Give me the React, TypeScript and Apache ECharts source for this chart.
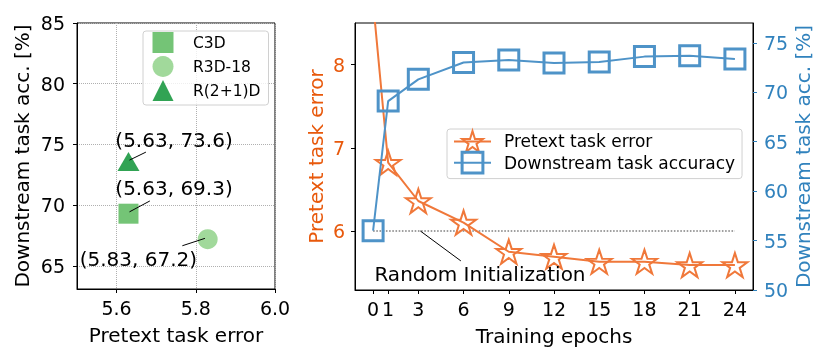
import React, { useEffect, useRef } from 'react';
import * as echarts from 'echarts';

// ---- Left panel data ----
const modelNames = ['C3D', 'R3D-18', 'R(2+1)D'];
const modelErrors = [5.63, 5.83, 5.63];
const modelAccs = [69.3, 67.2, 73.6];
const leftXTicks = [5.6, 5.8, 6.0];
const leftYTicks = [65, 70, 75, 80, 85];

// ---- Right panel data ----
const epochs = [0, 1, 3, 6, 9, 12, 15, 18, 21, 24];
const pretextError = [8.75, 6.82, 6.36, 6.1, 5.75, 5.69, 5.63, 5.63, 5.59, 5.59];
const downstreamAcc = [56.0, 69.1, 71.3, 73.0, 73.25, 72.95, 73.05, 73.6, 73.7, 73.35];
const randomInitError = 6.0;
const epochTicks = [0, 1, 3, 6, 9, 12, 15, 18, 21, 24];
const errTicks = [6, 7, 8];
const accTicks = [50, 55, 60, 65, 70, 75];

// ---- Annotations (data coordinates) ----
const leftNoteTexts = ['(5.63, 73.6)', '(5.63, 69.3)', '(5.83, 67.2)'];
const leftNoteTextAt = [[5.745, 75.4], [5.745, 71.45], [5.655, 65.57]];
const leftNoteLines = [
  [[5.6325, 73.71], [5.674, 74.37]],
  [[5.6325, 69.45], [5.684, 70.35]],
  [[5.766, 66.66], [5.823, 67.27]],
];
const rightNoteText = 'Random Initialization';
const rightNoteTextAt = [7.09, 5.485];
const rightNoteLine = [[3.13, 6.0], [5.82, 5.64]];

const FONT = 'DejaVu Sans';
const ORANGE_LINE = '#f0783a';
const ORANGE_TEXT = '#e8590c';
const BLUE_LINE = '#4e93c8';
const BLUE_TEXT = '#3182bd';
const greens = ['#74c476', '#a1d99b', '#31a354'];
const modelSymbols = ['rect', 'circle', 'triangle'];
const modelSizes: any[] = [[20, 20], [20, 20], [22, 19]];

const STAR = 'path://M50 0 L61.23 34.55 L97.55 34.55 L68.17 55.9 L79.39 90.45 L50 69.1 L20.61 90.45 L31.83 55.9 L2.45 34.55 L38.77 34.55 Z';

export default function App() {
  const ref = useRef<HTMLDivElement>(null);
  useEffect(() => {
    if (!ref.current) return;
    const chart = echarts.init(ref.current, undefined, { renderer: 'svg' });
    const tickLabel = (color: string, margin: number, custom: number[], fmt?: any) => ({
      customValues: custom,
      fontSize: 19,
      color,
      margin,
      fontFamily: FONT,
      formatter: fmt,
    });
    const axisLine = { show: true, onZero: false, lineStyle: { color: '#000' } };
    const noteLabel = (t: string) => ({
      show: true, position: 'inside', formatter: t, fontSize: 20, color: '#000',
      fontFamily: FONT, opacity: 1, textBorderWidth: 0,
    });
    const series: any[] = [];
    modelNames.forEach((n, i) => {
      series.push({
        type: 'scatter',
        name: n,
        xAxisIndex: 0,
        yAxisIndex: 0,
        symbol: modelSymbols[i],
        symbolSize: modelSizes[i],
        itemStyle: { color: greens[i], opacity: 1 },
        data: [[modelErrors[i], modelAccs[i]]],
        z: 3,
      });
    });
    leftNoteLines.forEach((l) => {
      series.push({
        type: 'line',
        xAxisIndex: 0,
        yAxisIndex: 0,
        data: l,
        symbol: 'none',
        lineStyle: { color: '#000', width: 1 },
        silent: true,
        z: 4,
      });
    });
    series.push({
      type: 'scatter',
      xAxisIndex: 0,
      yAxisIndex: 0,
      symbolSize: 1,
      itemStyle: { color: 'rgba(0,0,0,0)', opacity: 1 },
      silent: true,
      data: leftNoteTexts.map((t, i) => ({ value: leftNoteTextAt[i], label: noteLabel(t) })),
      z: 5,
    });
    // Right panel
    series.push({
      type: 'line',
      xAxisIndex: 1,
      yAxisIndex: 1,
      data: [[epochs[0], randomInitError], [epochs[epochs.length - 1], randomInitError]],
      symbol: 'none',
      lineStyle: { color: '#808080', width: 1.6, type: 'dotted' },
      silent: true,
      z: 1,
    });
    series.push({
      type: 'line',
      name: 'Pretext task error',
      xAxisIndex: 1,
      yAxisIndex: 1,
      data: epochs.map((e, i) => [e, pretextError[i]]),
      symbol: STAR,
      symbolSize: [25, 24],
      lineStyle: { color: ORANGE_LINE, width: 2 },
      itemStyle: { color: 'transparent', borderColor: ORANGE_LINE, borderWidth: 2 },
      clip: true,
      z: 2,
    });
    series.push({
      type: 'line',
      name: 'Downstream task accuracy',
      xAxisIndex: 1,
      yAxisIndex: 2,
      data: epochs.map((e, i) => [e, downstreamAcc[i]]),
      symbol: 'rect',
      symbolSize: 20,
      lineStyle: { color: BLUE_LINE, width: 2 },
      itemStyle: { color: 'transparent', borderColor: BLUE_LINE, borderWidth: 3 },
      z: 3,
    });
    series.push({
      type: 'line',
      xAxisIndex: 1,
      yAxisIndex: 1,
      data: rightNoteLine,
      symbol: 'none',
      lineStyle: { color: '#000', width: 1 },
      silent: true,
      z: 4,
    });
    series.push({
      type: 'scatter',
      xAxisIndex: 1,
      yAxisIndex: 1,
      symbolSize: 1,
      itemStyle: { color: 'rgba(0,0,0,0)', opacity: 1 },
      silent: true,
      data: [{ value: rightNoteTextAt, label: noteLabel(rightNoteText) }],
      z: 5,
    });

    const option: any = {
      animation: false,
      textStyle: { fontFamily: FONT },
      grid: [
        { left: 77, top: 23, width: 198, height: 266, show: true, borderColor: '#000', borderWidth: 1, containLabel: false },
        { left: 355, top: 23, width: 398, height: 267, show: true, borderColor: '#000', borderWidth: 1, containLabel: false },
      ],
      xAxis: [
        {
          type: 'value', gridIndex: 0, min: 5.5, max: 6.0,
          axisLine,
          axisTick: { show: true, length: 4, customValues: leftXTicks, lineStyle: { color: '#000' } },
          axisLabel: tickLabel('#000', 9, leftXTicks, (v: number) => v.toFixed(1)),
          splitLine: { show: true, lineStyle: { type: 'dotted', color: '#b0b0b0', width: 1 } },
          name: 'Pretext task error', nameLocation: 'middle', nameGap: 36,
          nameTextStyle: { fontSize: 20, color: '#000', fontFamily: FONT },
        },
        {
          type: 'value', gridIndex: 1, min: -1.2, max: 25.2,
          axisLine,
          axisTick: { show: true, length: 4, customValues: epochTicks, lineStyle: { color: '#000' } },
          axisLabel: tickLabel('#000', 9, epochTicks),
          splitLine: { show: false },
          name: 'Training epochs', nameLocation: 'middle', nameGap: 36,
          nameTextStyle: { fontSize: 20, color: '#000', fontFamily: FONT },
        },
      ],
      yAxis: [
        {
          type: 'value', gridIndex: 0, min: 63.1, max: 85,
          axisLine,
          axisTick: { show: true, length: 4, customValues: leftYTicks, lineStyle: { color: '#000' } },
          axisLabel: tickLabel('#000', 12, leftYTicks),
          splitLine: { show: true, lineStyle: { type: 'dotted', color: '#b0b0b0', width: 1 } },
          name: 'Downstream task acc. [%]', nameLocation: 'middle', nameGap: 45, nameRotate: 90,
          nameTextStyle: { fontSize: 20, color: '#000', fontFamily: FONT },
        },
        {
          type: 'value', gridIndex: 1, position: 'left', min: 5.29, max: 8.5,
          axisLine,
          axisTick: { show: true, length: 4, customValues: errTicks, lineStyle: { color: '#000' } },
          axisLabel: tickLabel(ORANGE_TEXT, 10, errTicks),
          splitLine: { show: false },
          name: 'Pretext task error', nameLocation: 'middle', nameGap: 29, nameRotate: 90,
          nameTextStyle: { fontSize: 20, color: ORANGE_TEXT, fontFamily: FONT },
        },
        {
          type: 'value', gridIndex: 1, position: 'right', min: 50, max: 77,
          axisLine,
          axisTick: { show: true, length: 4, customValues: accTicks, lineStyle: { color: BLUE_TEXT } },
          axisLabel: tickLabel(BLUE_TEXT, 11, accTicks),
          splitLine: { show: false },
          name: 'Downstream task acc. [%]', nameLocation: 'middle', nameGap: 40, nameRotate: 90,
          nameTextStyle: { fontSize: 20, color: BLUE_TEXT, fontFamily: FONT },
        },
      ],
      legend: [
        {
          data: modelNames,
          orient: 'vertical',
          left: 143, top: 31,
          itemWidth: 21, itemHeight: 21, itemGap: 3,
          padding: [1, 8, 4, 9.5],
          textStyle: { fontSize: 15.5, color: '#000', fontFamily: FONT, padding: [0, 0, 0, 14.5] },
          borderColor: '#d0d0d0', borderWidth: 1, borderRadius: 3,
          backgroundColor: 'rgba(255,255,255,0.8)',
          selectedMode: false,
        },
        {
          data: [
            { name: 'Pretext task error', itemStyle: { borderWidth: 2 } },
            { name: 'Downstream task accuracy', itemStyle: { borderWidth: 3 } },
          ],
          orient: 'vertical',
          left: 447, top: 129,
          itemWidth: 37, itemHeight: 26, itemGap: -2,
          padding: [1, 7, 4, 6],
          lineStyle: { width: 2 },
          textStyle: { fontSize: 17, color: '#000', fontFamily: FONT, padding: [0, 0, 0, 8] },
          borderColor: '#d0d0d0', borderWidth: 1, borderRadius: 3,
          backgroundColor: 'rgba(255,255,255,0.8)',
          selectedMode: false,
        },
      ],
      series,
    };
    chart.setOption(option);
    return () => chart.dispose();
  }, []);
  return <div ref={ref} style={{ position: 'fixed', left: 0, top: 0, width: 830, height: 361 }} />;
}
